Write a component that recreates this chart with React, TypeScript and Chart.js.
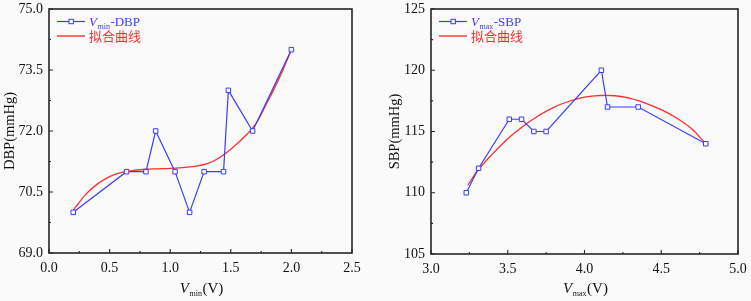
import React, { useEffect, useRef } from "react";
import { Chart, registerables } from "chart.js";

Chart.register(...registerables);

// ---- Left panel data (Vmin - DBP) ----
const leftX = [0.2, 0.64, 0.8, 0.88, 1.04, 1.16, 1.28, 1.44, 1.48, 1.68, 2.0];
const leftY = [70, 71, 71, 72, 71, 70, 71, 71, 73, 72, 74];
const leftFitX = [0.2, 0.3, 0.4, 0.5, 0.6, 0.7, 0.8, 0.9, 1.0, 1.1, 1.2, 1.3, 1.4, 1.5, 1.6, 1.7, 1.8, 1.9, 2.0];
const leftFitY = [70.05, 70.43, 70.7, 70.88, 70.98, 71.03, 71.06, 71.07, 71.08, 71.1, 71.13, 71.19, 71.33, 71.55, 71.82, 72.15, 72.7, 73.3, 74.0];
const leftXTicks = [0, 0.5, 1.0, 1.5, 2.0, 2.5];
const leftYTicks = [69.0, 70.5, 72.0, 73.5, 75.0];

// ---- Right panel data (Vmax - SBP) ----
const rightX = [3.23, 3.31, 3.51, 3.59, 3.67, 3.75, 4.11, 4.15, 4.35, 4.79];
const rightY = [110, 112, 116, 116, 115, 115, 120, 117, 117, 114];
const rightFitX = [3.24, 3.3, 3.4, 3.5, 3.6, 3.7, 3.8, 3.9, 4.0, 4.1, 4.2, 4.3, 4.4, 4.5, 4.6, 4.7, 4.79];
const rightFitY = [110.6, 111.75, 113.15, 114.4, 115.42, 116.28, 116.97, 117.47, 117.8, 117.94, 117.92, 117.7, 117.3, 116.78, 116.1, 115.2, 114.0];
const rightXTicks = [3.0, 3.5, 4.0, 4.5, 5.0];
const rightYTicks = [105, 110, 115, 120, 125];

const BLUE = "rgb(60,60,255)";
const RED = "rgb(255,45,45)";
const SERIF = '"Liberation Serif", "Times New Roman", serif';
const CJK = '"Noto Sans CJK SC", sans-serif';

type PanelCfg = {
  width: number;
  xs: number[];
  ys: number[];
  fx: number[];
  fy: number[];
  xTicks: number[];
  yTicks: number[];
  xDec: number;
  yDec: number;
  yAxisWidth: number;
  xAxisHeight: number;
  padRight: number;
  sub: string;
  yTitle: string;
  yTitleX: number;
  seriesName: string;
};

function drawSubText(
  ctx: CanvasRenderingContext2D,
  x: number,
  y: number,
  size: number,
  subSize: number,
  sub: string,
  tail: string,
  color: string,
  measureOnly = false
) {
  ctx.font = `italic ${size}px ${SERIF}`;
  const w1 = ctx.measureText("V").width;
  ctx.font = `${subSize}px ${SERIF}`;
  const w2 = ctx.measureText(sub).width;
  ctx.font = `${size}px ${SERIF}`;
  const w3 = ctx.measureText(tail).width;
  const total = w1 + w2 + w3 + 1;
  if (measureOnly) return total;
  ctx.fillStyle = color;
  ctx.textBaseline = "alphabetic";
  ctx.textAlign = "left";
  ctx.font = `italic ${size}px ${SERIF}`;
  ctx.fillText("V", x, y);
  ctx.font = `${subSize}px ${SERIF}`;
  ctx.fillText(sub, x + w1 + 0.5, y + subSize * 0.35);
  ctx.font = `${size}px ${SERIF}`;
  ctx.fillText(tail, x + w1 + w2 + 1, y);
  return total;
}

function makePlugin(cfg: PanelCfg) {
  return {
    id: "frameDecor",
    afterDraw(chart: any) {
      const ctx: CanvasRenderingContext2D = chart.ctx;
      const ca = chart.chartArea;
      const xs = chart.scales.x;
      const ys = chart.scales.y;
      ctx.save();
      // frame
      ctx.strokeStyle = "#262626";
      ctx.lineWidth = 1.6;
      ctx.strokeRect(ca.left, ca.top, ca.right - ca.left, ca.bottom - ca.top);
      // inward ticks on left and bottom
      ctx.lineWidth = 1.1;
      ctx.beginPath();
      const xt = cfg.xTicks;
      for (let i = 0; i < xt.length; i++) {
        const p = xs.getPixelForValue(xt[i]);
        ctx.moveTo(p, ca.bottom);
        ctx.lineTo(p, ca.bottom - 4);
        if (i < xt.length - 1) {
          const m = xs.getPixelForValue((xt[i] + xt[i + 1]) / 2);
          ctx.moveTo(m, ca.bottom);
          ctx.lineTo(m, ca.bottom - 2);
        }
      }
      const yt = cfg.yTicks;
      for (let i = 0; i < yt.length; i++) {
        const p = ys.getPixelForValue(yt[i]);
        ctx.moveTo(ca.left, p);
        ctx.lineTo(ca.left + 4, p);
        if (i < yt.length - 1) {
          const m = ys.getPixelForValue((yt[i] + yt[i + 1]) / 2);
          ctx.moveTo(ca.left, m);
          ctx.lineTo(ca.left + 2, m);
        }
      }
      ctx.stroke();

      // legend
      const lx = ca.left + 8;
      const ly1 = ca.top + 12.5;
      const ly2 = ca.top + 27;
      ctx.strokeStyle = BLUE;
      ctx.lineWidth = 1.2;
      ctx.beginPath();
      ctx.moveTo(lx, ly1);
      ctx.lineTo(lx + 28, ly1);
      ctx.stroke();
      ctx.fillStyle = "#fafafa";
      ctx.fillRect(lx + 12, ly1 - 2, 4.4, 4.4);
      ctx.lineWidth = 1;
      ctx.strokeRect(lx + 12, ly1 - 2.2, 4.4, 4.4);
      drawSubText(ctx, lx + 32, ly1 + 4.5, 13, 8, cfg.sub, cfg.seriesName, BLUE);
      ctx.strokeStyle = RED;
      ctx.lineWidth = 1.4;
      ctx.beginPath();
      ctx.moveTo(lx, ly2);
      ctx.lineTo(lx + 28, ly2);
      ctx.stroke();
      ctx.fillStyle = RED;
      ctx.font = `13px ${CJK}`;
      ctx.textBaseline = "middle";
      ctx.textAlign = "left";
      ctx.fillText("拟合曲线", lx + 32, ly2 + 0.5);

      // x title
      const cx = (ca.left + ca.right) / 2 + 1;
      const tw = drawSubText(ctx, 0, 0, 15, 8, cfg.sub, "(V)", "#111", true) as number;
      drawSubText(ctx, cx - tw / 2, 293, 15, 8, cfg.sub, "(V)", "#111");

      // y title
      ctx.save();
      ctx.translate(cfg.yTitleX, (ca.top + ca.bottom) / 2);
      ctx.rotate(-Math.PI / 2);
      ctx.fillStyle = "#111";
      ctx.font = `14.5px ${SERIF}`;
      ctx.textAlign = "center";
      ctx.textBaseline = "middle";
      ctx.fillText(cfg.yTitle, 0, 0);
      ctx.restore();

      ctx.restore();
    },
  };
}

function Panel({ cfg }: { cfg: PanelCfg }) {
  const ref = useRef<HTMLCanvasElement>(null);
  useEffect(() => {
    if (!ref.current) return;
    const chart = new Chart(ref.current, {
      type: "scatter",
      data: {
        datasets: [
          {
            data: cfg.xs.map((x, i) => ({ x, y: cfg.ys[i] })),
            showLine: true,
            borderColor: BLUE,
            borderWidth: 1.2,
            pointStyle: "rect",
            pointRadius: 3.2,
            pointBorderWidth: 1,
            pointBorderColor: BLUE,
            pointBackgroundColor: "#fafafa",
            tension: 0,
          } as any,
          {
            data: cfg.fx.map((x, i) => ({ x, y: cfg.fy[i] })),
            showLine: true,
            borderColor: RED,
            borderWidth: 1.3,
            pointRadius: 0,
            cubicInterpolationMode: "default",
            tension: 0.35,
          } as any,
        ],
      },
      options: {
        animation: false,
        responsive: false,
        devicePixelRatio: 1,
        layout: { padding: { top: 9, right: cfg.padRight, left: 0, bottom: 0 } },
        plugins: { legend: { display: false }, tooltip: { enabled: false } },
        events: [],
        scales: {
          x: {
            type: "linear",
            min: cfg.xTicks[0],
            max: cfg.xTicks[cfg.xTicks.length - 1],
            grid: { display: false, drawTicks: false },
            border: { display: false },
            afterBuildTicks: (s: any) => {
              s.ticks = cfg.xTicks.map((v) => ({ value: v }));
            },
            afterFit: (s: any) => {
              s.height = cfg.xAxisHeight;
              s.paddingLeft = 0;
              s.paddingRight = 0;
              s.paddingTop = 0;
              s.paddingBottom = 0;
            },
            ticks: {
              padding: 7,
              color: "#111",
              maxRotation: 0,
              autoSkip: false,
              font: { family: SERIF, size: 14 },
              callback: (v: any) => Number(v).toFixed(cfg.xDec),
            },
          },
          y: {
            type: "linear",
            min: cfg.yTicks[0],
            max: cfg.yTicks[cfg.yTicks.length - 1],
            grid: { display: false, drawTicks: false },
            border: { display: false },
            afterBuildTicks: (s: any) => {
              s.ticks = cfg.yTicks.map((v) => ({ value: v }));
            },
            afterFit: (s: any) => {
              s.width = cfg.yAxisWidth;
              s.paddingLeft = 0;
              s.paddingRight = 0;
              s.paddingTop = 0;
              s.paddingBottom = 0;
            },
            ticks: {
              padding: 6,
              color: "#111",
              autoSkip: false,
              font: { family: SERIF, size: 14 },
              callback: (v: any) => Number(v).toFixed(cfg.yDec),
            },
          },
        },
      },
      plugins: [makePlugin(cfg)],
    });
    return () => chart.destroy();
  }, [cfg]);
  return <canvas ref={ref} width={cfg.width} height={301} style={{ display: "block", width: cfg.width, height: 301 }} />;
}

const leftCfg: PanelCfg = {
  width: 375,
  xs: leftX,
  ys: leftY,
  fx: leftFitX,
  fy: leftFitY,
  xTicks: leftXTicks,
  yTicks: leftYTicks,
  xDec: 1,
  yDec: 1,
  yAxisWidth: 49,
  xAxisHeight: 48,
  padRight: 23,
  sub: "min",
  yTitle: "DBP(mmHg)",
  yTitleX: 10,
  seriesName: "-DBP",
};

const rightCfg: PanelCfg = {
  width: 376,
  xs: rightX,
  ys: rightY,
  fx: rightFitX,
  fy: rightFitY,
  xTicks: rightXTicks,
  yTicks: rightYTicks,
  xDec: 1,
  yDec: 0,
  yAxisWidth: 56,
  xAxisHeight: 47,
  padRight: 13,
  sub: "max",
  yTitle: "SBP(mmHg)",
  yTitleX: 20,
  seriesName: "-SBP",
};

export default function App() {
  return (
    <div
      style={{
        position: "absolute",
        left: 0,
        top: 0,
        width: 751,
        height: 301,
        background: "#fafafa",
        display: "flex",
      }}
    >
      <Panel cfg={leftCfg} />
      <Panel cfg={rightCfg} />
    </div>
  );
}
